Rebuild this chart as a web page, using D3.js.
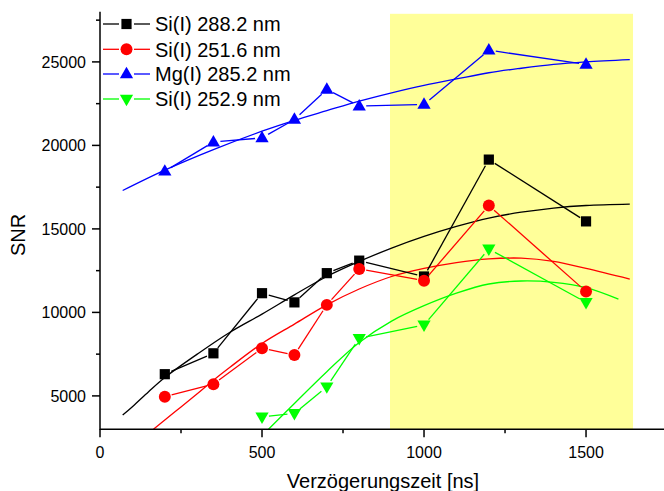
<!DOCTYPE html>
<html>
<head>
<meta charset="utf-8">
<script src="https://cdn.jsdelivr.net/npm/d3@7"></script>
<style>
  html, body { margin: 0; padding: 0; background: #fff; }
  svg { display: block; font-family: "Liberation Sans", Arial, sans-serif; }
</style>
</head>
<body>
<svg id="chart" width="664" height="491"></svg>
<script>
// ---- data ----
const delays = [200, 350, 500, 600, 700, 800, 1000, 1200, 1500];
const si2882 = [6300, 7550, 11150, 10600, 12350, 13100, 12150, 19150, 15450];
const si2516 = [4950, 5700, 7850, 7450, 10450, 12600, 11900, 16400, 11250];
const mg2852 = [18450, 20200, 20450, 21550, 23350, 22350, 22450, 25700, 24850];
const delaysSi2529 = [500, 600, 700, 800, 1000, 1200, 1500];
const si2529 = [3750, 3950, 5550, 8450, 9250, 13800, 10600];

// fitted curves
const fitBlackX = [70, 100, 150, 200, 300, 400, 500, 600, 700, 800, 900, 1000, 1100, 1200, 1300, 1400, 1500, 1635];
const fitBlackY = [3850, 4350, 5250, 6100, 7500, 8800, 9900, 11050, 12150, 13050, 13850, 14550, 15150, 15650, 16000, 16250, 16400, 16480];
const fitRedX = [165, 200, 250, 300, 350, 400, 500, 600, 700, 800, 900, 1000, 1100, 1200, 1300, 1400, 1500, 1635];
const fitRedY = [3000, 3560, 4340, 5130, 5940, 6700, 8140, 9300, 10450, 11400, 12150, 12630, 12980, 13200, 13250, 13050, 12630, 11990];
const fitBlueX = [70, 200, 350, 500, 600, 700, 800, 900, 1000, 1100, 1200, 1300, 1400, 1500, 1635];
const fitBlueY = [17300, 18520, 19750, 20850, 21500, 22080, 22650, 23150, 23600, 23980, 24350, 24620, 24850, 25000, 25140];
const fitGreenX = [520, 600, 700, 800, 900, 1000, 1100, 1200, 1300, 1400, 1500, 1600];
const fitGreenY = [3000, 4550, 6450, 8200, 9480, 10400, 11150, 11700, 11880, 11800, 11480, 10790];

const seriesNames = ["Si(I) 288.2 nm", "Si(I) 251.6 nm", "Mg(I) 285.2 nm", "Si(I) 252.9 nm"];
const seriesColors = ["#000000", "#ff0000", "#0000ff", "#00ff00"];
const xTicks = [0, 500, 1000, 1500];
const xMinor = [250, 750, 1250];
const yTicks = [5000, 10000, 15000, 20000, 25000];
const yMinor = [7500, 12500, 17500, 22500, 27500];
const highlight = [895, 1645];
const xLabel = "Verzögerungszeit [ns]";
const yLabel = "SNR";

// ---- build ----
const svg = d3.select("#chart");
const x = d3.scaleLinear().domain([0, 1740]).range([100, 663.8]);
const y = d3.scaleLinear().domain([3000, 28000]).range([429.3, 11.8]);

// highlighted region
svg.append("rect")
  .attr("x", x(highlight[0])).attr("y", y(27880))
  .attr("width", x(highlight[1]) - x(highlight[0]))
  .attr("height", y(3000) - y(27880))
  .attr("fill", "#ffff99");

const series = [
  { xs: delays, ys: si2882, fx: fitBlackX, fy: fitBlackY, shape: "square" },
  { xs: delays, ys: si2516, fx: fitRedX, fy: fitRedY, shape: "circle" },
  { xs: delays, ys: mg2852, fx: fitBlueX, fy: fitBlueY, shape: "up" },
  { xs: delaysSi2529, ys: si2529, fx: fitGreenX, fy: fitGreenY, shape: "down" }
];

function symbolPath(shape) {
  if (shape === "square") return d3.symbol(d3.symbolSquare, 104)();
  if (shape === "circle") return d3.symbol(d3.symbolCircle, 112)();
  return d3.symbol(d3.symbolTriangle, 76)();
}
function symbolTransform(shape, px, py) {
  if (shape === "up") return `translate(${px},${py + 0.5})`;
  if (shape === "down") return `translate(${px},${py - 0.5}) rotate(180)`;
  return `translate(${px},${py})`;
}

const fitLine = d3.line().curve(d3.curveCatmullRom.alpha(0.5));
const gap = 7;

series.forEach((s, i) => {
  const col = seriesColors[i];
  const fitPts = s.fx.map((v, k) => [x(v), y(s.fy[k])]);
  svg.append("path").attr("d", fitLine(fitPts))
    .attr("fill", "none").attr("stroke", col).attr("stroke-width", 1.3);
});

series.forEach((s, i) => {
  const col = seriesColors[i];
  const pts = s.xs.map((v, k) => [x(v), y(s.ys[k])]);
  const g = svg.append("g");
  for (let k = 0; k < pts.length - 1; k++) {
    const [x1, y1] = pts[k], [x2, y2] = pts[k + 1];
    const dx = x2 - x1, dy = y2 - y1, len = Math.hypot(dx, dy);
    if (len <= 2 * gap) continue;
    const ux = dx / len, uy = dy / len;
    g.append("line")
      .attr("x1", x1 + ux * gap).attr("y1", y1 + uy * gap)
      .attr("x2", x2 - ux * gap).attr("y2", y2 - uy * gap)
      .attr("stroke", col).attr("stroke-width", 1.3);
  }
  g.selectAll("path.m").data(pts).enter().append("path")
    .attr("class", "m")
    .attr("d", symbolPath(s.shape))
    .attr("transform", d => symbolTransform(s.shape, d[0], d[1]))
    .attr("fill", col);
});

// axes
const axisColor = "#000";
svg.append("line").attr("x1", x(0)).attr("x2", 664).attr("y1", y(3000)).attr("y2", y(3000))
  .attr("stroke", axisColor).attr("stroke-width", 1.5);
svg.append("line").attr("x1", x(0)).attr("x2", x(0)).attr("y1", y(3000) + 0.7).attr("y2", y(28000))
  .attr("stroke", axisColor).attr("stroke-width", 1.5);

xTicks.forEach(t => {
  svg.append("line").attr("x1", x(t)).attr("x2", x(t)).attr("y1", y(3000)).attr("y2", y(3000) + 8)
    .attr("stroke", axisColor).attr("stroke-width", 1.5);
  svg.append("text").attr("x", x(t)).attr("y", 457.5).attr("text-anchor", "middle")
    .attr("font-size", 16).attr("fill", "#000").text(t);
});
xMinor.forEach(t => {
  svg.append("line").attr("x1", x(t)).attr("x2", x(t)).attr("y1", y(3000)).attr("y2", y(3000) + 4)
    .attr("stroke", axisColor).attr("stroke-width", 1.5);
});
yTicks.forEach(t => {
  svg.append("line").attr("x1", x(0) - 8).attr("x2", x(0)).attr("y1", y(t)).attr("y2", y(t))
    .attr("stroke", axisColor).attr("stroke-width", 1.5);
  svg.append("text").attr("x", 86).attr("y", y(t) + 5.8).attr("text-anchor", "end")
    .attr("font-size", 16).attr("fill", "#000").text(t);
});
yMinor.forEach(t => {
  svg.append("line").attr("x1", x(0) - 4).attr("x2", x(0)).attr("y1", y(t)).attr("y2", y(t))
    .attr("stroke", axisColor).attr("stroke-width", 1.5);
});

svg.append("text").attr("x", 383).attr("y", 487.5).attr("text-anchor", "middle")
  .attr("font-size", 20).attr("fill", "#000").text(xLabel);
svg.append("text").attr("transform", "translate(24.5,235) rotate(-90)").attr("text-anchor", "middle")
  .attr("font-size", 20).attr("fill", "#000").text(yLabel);

// legend
const legRows = [24, 49.3, 74, 99];
series.forEach((s, i) => {
  const col = seriesColors[i];
  const ly = legRows[i];
  const g = svg.append("g");
  g.append("line").attr("x1", 103).attr("x2", 119).attr("y1", ly).attr("y2", ly)
    .attr("stroke", col).attr("stroke-width", 1.3);
  g.append("line").attr("x1", 134).attr("x2", 150).attr("y1", ly).attr("y2", ly)
    .attr("stroke", col).attr("stroke-width", 1.3);
  g.append("path").attr("d", symbolPath(s.shape))
    .attr("transform", symbolTransform(s.shape, 126.5, ly)).attr("fill", col);
  g.append("text").attr("x", 155).attr("y", ly + 7.2).attr("font-size", 20)
    .attr("fill", "#000").text(seriesNames[i]);
});
</script>
</body>
</html>
